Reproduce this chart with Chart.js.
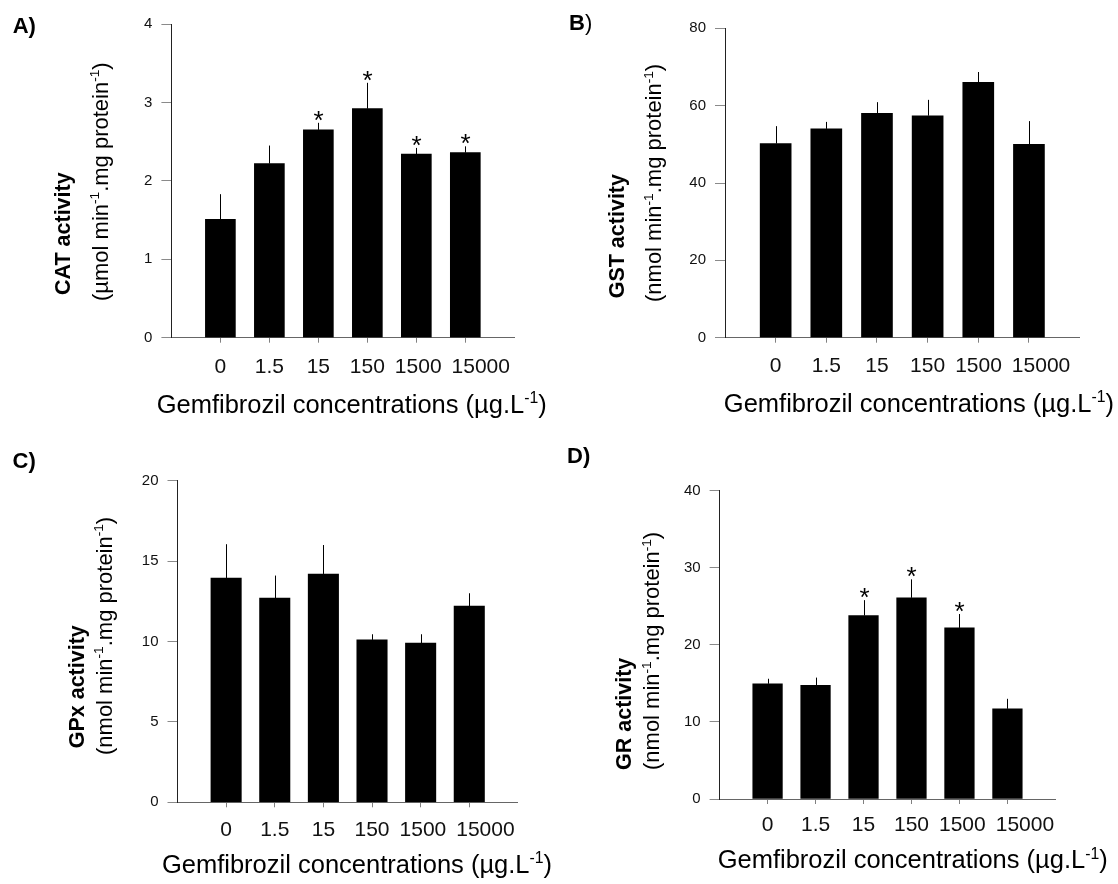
<!DOCTYPE html>
<html>
<head>
<meta charset="utf-8">
<script src="https://cdn.jsdelivr.net/npm/chart.js@4.4.0/dist/chart.umd.min.js"></script>
<style>
  body { margin: 0; background: #fff; }
  #fig { position: relative; width: 1118px; height: 884px; }
  #fig canvas { position: absolute; }
</style>
</head>
<body>
<div id="fig">
  <canvas id="cat" width="560" height="440" style="left:0;top:0"></canvas>
  <canvas id="gst" width="558" height="440" style="left:560px;top:0"></canvas>
  <canvas id="gpx" width="560" height="444" style="left:0;top:440px"></canvas>
  <canvas id="gr" width="558" height="444" style="left:560px;top:440px"></canvas>
</div>
<script>
// gemfibrozil exposure groups (µg/L)
const concentrations = ['0', '1.5', '15', '150', '1500', '15000'];

// enzyme activities: mean and upper error
const catMean = [1.51, 2.22, 2.65, 2.92, 2.34, 2.36];
const catErr = [0.32, 0.23, 0.09, 0.33, 0.08, 0.08];
const catSig = [false, false, true, true, true, true];

const gstMean = [50.2, 54.0, 58.0, 57.4, 66.0, 50.0];
const gstErr = [4.5, 1.8, 2.9, 4.1, 2.7, 6.0];
const gstSig = [false, false, false, false, false, false];

const gpxMean = [13.95, 12.7, 14.2, 10.1, 9.9, 12.2];
const gpxErr = [2.1, 1.4, 1.8, 0.35, 0.55, 0.8];
const gpxSig = [false, false, false, false, false, false];

const grMean = [14.95, 14.75, 23.8, 26.1, 22.2, 11.7];
const grErr = [0.65, 1.0, 2.0, 2.4, 1.8, 1.3];
const grSig = [false, false, true, true, true, false];

// y axis ticks
const catTicks = [0, 1, 2, 3, 4];
const gstTicks = [0, 20, 40, 60, 80];
const gpxTicks = [0, 5, 10, 15, 20];
const grTicks = [0, 10, 20, 30, 40];

const FONT = "'Liberation Sans', Arial, sans-serif";
const xTitle = [['Gemfibrozil concentrations (µg.L'], ['-1', true], [')']];
const nmolUnit = [['(nmol min'], ['-1', true], ['.mg protein'], ['-1', true], [')']];
const umolUnit = [['(µmol min'], ['-1', true], ['.mg protein'], ['-1', true], [')']];

// text runs with superscripts, drawn from the current origin
function richWidth(ctx, runs, size, weight) {
  let w = 0;
  runs.forEach(([t, sup]) => {
    ctx.font = weight + ' ' + (sup ? size * 0.62 : size) + 'px ' + FONT;
    w += ctx.measureText(t).width;
  });
  return w;
}

function drawRich(ctx, runs, x, y, size, weight) {
  ctx.textAlign = 'left';
  ctx.textBaseline = 'alphabetic';
  runs.forEach(([t, sup]) => {
    ctx.font = weight + ' ' + (sup ? size * 0.62 : size) + 'px ' + FONT;
    ctx.fillText(t, x, sup ? y - size * 0.38 : y);
    x += ctx.measureText(t).width;
  });
}

function decor(p) {
  return {
    id: 'decor',
    afterDatasetsDraw(chart) {
      const ctx = chart.ctx;
      const xs = chart.scales.x;
      const ys = chart.scales.y;
      ctx.save();
      ctx.strokeStyle = '#000';
      ctx.fillStyle = '#000';
      ctx.lineWidth = 1;
      p.mean.forEach((m, i) => {
        const x = Math.round(xs.getPixelForValue(i + 1)) + 0.5;
        const yBar = ys.getPixelForValue(m);
        const yTop = ys.getPixelForValue(m + p.err[i]);
        ctx.beginPath();
        ctx.moveTo(x, yBar);
        ctx.lineTo(x, yTop);
        ctx.stroke();
        if (p.sig[i]) {
          ctx.font = '26px ' + FONT;
          ctx.textAlign = 'center';
          ctx.textBaseline = 'alphabetic';
          ctx.fillText('*', x, yTop + 6);
        }
      });
      ctx.restore();
    },
    afterDraw(chart) {
      const ctx = chart.ctx;
      const xs = chart.scales.x;
      ctx.save();
      ctx.fillStyle = '#000';

      // category labels under their ticks, nudged right where they would crowd
      ctx.font = '21px ' + FONT;
      ctx.fillStyle = '#111';
      ctx.textAlign = 'left';
      ctx.textBaseline = 'middle';
      const labelY = chart.chartArea.bottom + 5 + p.xPad + 12.6;
      let prevRight = -Infinity;
      concentrations.forEach((lab, i) => {
        const w = ctx.measureText(lab).width;
        let left = xs.getPixelForValue(i + 1) - w / 2;
        if (left < prevRight + 10) left = prevRight + 10;
        ctx.fillText(lab, left, labelY);
        prevRight = left + w;
      });
      ctx.fillStyle = '#000';

      // panel letter
      drawRich(ctx, p.letter, p.letterX, p.letterY, 22, 'bold');
      // y title, two rotated lines
      ctx.save();
      ctx.translate(p.boldX, p.boldY);
      ctx.rotate(-Math.PI / 2);
      drawRich(ctx, [[p.enzyme + ' activity']], 0, 0, 21.5, 'bold');
      ctx.restore();
      ctx.save();
      ctx.translate(p.unitX, p.unitY);
      ctx.rotate(-Math.PI / 2);
      drawRich(ctx, p.unit, 0, 0, 22, 'normal');
      ctx.restore();
      // x title
      const w = richWidth(ctx, xTitle, 25.5, 'normal');
      drawRich(ctx, xTitle, p.xTitleX - w / 2, p.xTitleY, 25.5, 'normal');
      ctx.restore();
    }
  };
}

function makePanel(id, p) {
  const canvas = document.getElementById(id);
  const W = canvas.width, H = canvas.height;
  const yAxisW = 60, xAxisH = 60;
  const lastIdx = concentrations.length + 1;
  return new Chart(canvas, {
    type: 'bar',
    data: {
      labels: ['', ...concentrations, ''],
      datasets: [{
        data: [null, ...p.mean, null],
        backgroundColor: '#000',
        borderWidth: 0,
        barThickness: p.barW
      }]
    },
    options: {
      responsive: false,
      animation: false,
      events: [],
      layout: {
        padding: {
          left: p.left - yAxisW,
          top: p.top,
          right: W - p.right,
          bottom: H - p.bottom - xAxisH
        }
      },
      plugins: { legend: { display: false }, tooltip: { enabled: false } },
      scales: {
        x: {
          offset: false,
          grid: {
            offset: false,
            drawOnChartArea: false,
            tickLength: 5,
            tickColor: c => (c.index === 0 || c.index === lastIdx) ? 'rgba(0,0,0,0)' : '#808080'
          },
          border: { color: '#666', width: 1 },
          ticks: { display: false, autoSkip: false, maxRotation: 0 },
          afterFit: s => { s.height = xAxisH; }
        },
        y: {
          min: p.ticks[0],
          max: p.ticks[p.ticks.length - 1],
          afterBuildTicks: s => { s.ticks = p.ticks.map(v => ({ value: v })); },
          grid: { drawOnChartArea: false, tickLength: 10, tickColor: '#8a8a8a' },
          border: { color: '#222', width: 1 },
          ticks: {
            font: { family: FONT, size: 15 },
            color: '#111',
            padding: 9
          },
          afterFit: s => { s.width = yAxisW; }
        }
      }
    },
    plugins: [decor(p)]
  });
}

makePanel('cat', {
  mean: catMean, err: catErr, sig: catSig, ticks: catTicks,
  enzyme: 'CAT', unit: umolUnit, letter: [['A)']],
  left: 171.4, top: 24, right: 514.3, bottom: 337.7, barW: 30, xPad: 12,
  letterX: 12.7, letterY: 33, boldX: 70, boldY: 295, unitX: 107.5, unitY: 301,
  xTitleX: 351.7, xTitleY: 413
});

makePanel('gst', {
  mean: gstMean, err: gstErr, sig: gstSig, ticks: gstTicks,
  enzyme: 'GST', unit: nmolUnit, letter: [['B']],
  left: 165, top: 28.3, right: 519.6, bottom: 337.7, barW: 31, xPad: 11.4,
  letterX: 9, letterY: 30, boldX: 64.3, boldY: 298.3, unitX: 101, unitY: 302,
  xTitleX: 358.9, xTitleY: 412
});

makePanel('gpx', {
  mean: gpxMean, err: gpxErr, sig: gpxSig, ticks: gpxTicks,
  enzyme: 'GPx', unit: nmolUnit, letter: [['C)']],
  left: 177.5, top: 40.7, right: 517.9, bottom: 362.3, barW: 30.4, xPad: 10,
  letterX: 12.5, letterY: 28.3, boldX: 84, boldY: 308.3, unitX: 111.7, unitY: 315,
  xTitleX: 357, xTitleY: 432.7
});

makePanel('gr', {
  mean: grMean, err: grErr, sig: grSig, ticks: grTicks,
  enzyme: 'GR', unit: nmolUnit, letter: [['D)']],
  left: 159.6, top: 50.7, right: 495.4, bottom: 359, barW: 29.6, xPad: 8.4,
  letterX: 7, letterY: 23.3, boldX: 71.4, boldY: 330, unitX: 99.3, unitY: 330,
  xTitleX: 352.7, xTitleY: 428.3
});

// the B label has a plain closing parenthesis
(function () {
  const ctx = document.getElementById('gst').getContext('2d');
  ctx.font = 'bold 22px ' + FONT;
  const bw = ctx.measureText('B').width;
  ctx.fillStyle = '#000';
  ctx.font = '22px ' + FONT;
  ctx.textBaseline = 'alphabetic';
  ctx.fillText(')', 9 + bw, 30);
})();
</script>
</body>
</html>
